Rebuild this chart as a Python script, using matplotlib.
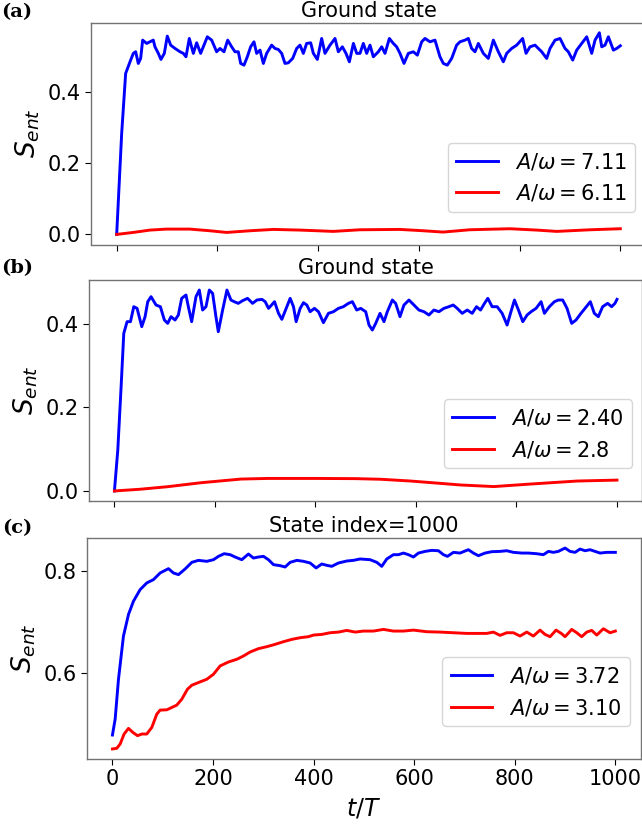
import matplotlib
matplotlib.use("Agg")
import matplotlib.pyplot as plt

# ---------------- data ----------------
# Panel (a): Ground state
t_a_blue = [0, 9.9, 17.8, 26.4, 33.0, 37.7, 42.9, 47.6, 51.6, 59.5, 66.1, 72.7, 76.0, 82.7, 87.9, 94.6,
            100.5, 107.2, 115.8, 125.8, 132.3, 137.6, 144.2, 152.2, 158.8, 166.7, 173.3, 180.0, 188.6,
            198.5, 205.1, 213.1, 220.4, 228.3, 234.9, 241.5, 246.2, 252.8, 259.4, 266.0, 272.6, 277.9,
            284.6, 291.2, 297.8, 307.7, 314.3, 320.9, 327.6, 334.2, 340.8, 349.4, 357.4, 364.0, 370.6,
            377.2, 385.2, 390.5, 398.4, 407.0, 413.6, 423.6, 433.5, 440.1, 448.1, 455.3, 462.0, 470.0,
            476.6, 483.1, 489.7, 496.4, 503.0, 509.6, 519.5, 526.2, 532.8, 541.4, 549.3, 555.9, 562.5,
            570.5, 579.1, 589.0, 597.0, 605.6, 612.2, 622.1, 632.0, 641.9, 648.6, 656.5, 665.1, 675.0,
            681.7, 691.6, 698.2, 704.8, 711.5, 718.1, 728.0, 737.9, 747.9, 757.8, 767.7, 774.4, 784.3,
            794.2, 806.1, 812.8, 820.7, 830.6, 843.9, 853.8, 860.4, 870.4, 880.3, 890.2, 896.8, 905.5,
            913.4, 923.3, 933.3, 943.2, 949.8, 958.4, 963.1, 969.7, 976.3, 986.2, 992.8, 1000]
s_a_blue = [0.0, 0.284, 0.4535, 0.486, 0.510, 0.5145, 0.4816, 0.4957, 0.5473, 0.538, 0.5426, 0.5473,
            0.5285, 0.510, 0.4929, 0.510, 0.5586, 0.5332, 0.5239, 0.5145, 0.510, 0.5004, 0.552, 0.510,
            0.5398, 0.510, 0.5332, 0.5567, 0.5473, 0.5145, 0.5239, 0.5145, 0.5473, 0.5285, 0.5145,
            0.5145, 0.4816, 0.4769, 0.5004, 0.5285, 0.5426, 0.510, 0.5192, 0.4816, 0.510, 0.5332,
            0.5239, 0.521, 0.510, 0.4816, 0.4835, 0.4957, 0.5239, 0.5332, 0.510, 0.538, 0.5398, 0.510,
            0.4929, 0.552, 0.510, 0.5332, 0.552, 0.5145, 0.5285, 0.510, 0.4863, 0.538, 0.510, 0.510,
            0.538, 0.510, 0.5332, 0.5004, 0.5145, 0.5285, 0.510, 0.552, 0.538, 0.5285, 0.510, 0.4816,
            0.510, 0.5145, 0.505, 0.5426, 0.552, 0.5426, 0.5473, 0.5004, 0.4816, 0.4769, 0.4957,
            0.5332, 0.5426, 0.5473, 0.552, 0.5239, 0.5145, 0.538, 0.510, 0.4957, 0.5473, 0.5145,
            0.4863, 0.510, 0.5239, 0.5332, 0.552, 0.510, 0.5285, 0.5332, 0.5145, 0.4957, 0.5239,
            0.5473, 0.552, 0.5239, 0.5145, 0.4910, 0.5192, 0.538, 0.5567, 0.510, 0.5473, 0.5680,
            0.5285, 0.5332, 0.5567, 0.5192, 0.5239, 0.5314]
t_a_red = [0, 33, 66, 99, 145, 185, 218, 265, 311, 364, 430, 483, 562, 609, 648, 701, 781, 834, 874, 940, 1000]
s_a_red = [0.0, 0.0056, 0.0122, 0.015, 0.015, 0.0103, 0.0056, 0.0103, 0.0141, 0.0122, 0.0085, 0.0131,
           0.0141, 0.0103, 0.0066, 0.0131, 0.016, 0.0122, 0.0085, 0.0131, 0.016]

# Panel (b): Ground state
t_b_blue = [0, 6.7, 13.3, 18.6, 25.2, 31.9, 38.5, 45.1, 54.4, 61.0, 66.3, 72.9, 82.8, 91.4, 99.4, 106.0,
            112.6, 120.6, 127.2, 133.8, 142.4, 147.1, 153.7, 162.3, 168.9, 175.5, 182.2, 188.8, 195.4,
            202.0, 206.7, 215.3, 223.9, 231.8, 238.4, 246.4, 255.0, 264.9, 274.9, 283.5, 293.4, 300.0,
            306.7, 318.6, 326.5, 333.1, 343.1, 349.7, 356.3, 361.6, 369.6, 376.2, 382.8, 389.4, 398.0,
            406.0, 415.9, 425.8, 435.8, 445.7, 455.6, 465.6, 473.5, 482.1, 490.1, 500.0, 506.6, 513.2,
            519.9, 528.5, 536.4, 543.0, 553.0, 559.6, 568.2, 576.1, 586.1, 596.0, 605.9, 615.9, 625.8,
            635.7, 645.7, 655.6, 665.5, 674.2, 682.1, 692.0, 702.0, 711.9, 720.5, 728.5, 736.4, 743.0,
            751.6, 761.6, 771.5, 781.4, 788.1, 796.0, 804.0, 812.6, 821.2, 829.1, 839.0, 849.0, 855.6,
            865.5, 875.5, 883.4, 892.0, 900.6, 909.9, 918.5, 928.4, 936.4, 947.0, 954.9, 962.9, 971.5,
            981.4, 989.4, 996.0, 1000]
s_b_blue = [0.0, 0.0982, 0.2499, 0.3776, 0.4056, 0.4056, 0.4415, 0.4375, 0.3936, 0.4176, 0.4535, 0.4655,
            0.4455, 0.4415, 0.4096, 0.4016, 0.4176, 0.4096, 0.4216, 0.4615, 0.4695, 0.4415, 0.4056,
            0.4655, 0.4814, 0.4335, 0.4415, 0.4814, 0.4735, 0.4176, 0.3816, 0.4335, 0.4814, 0.4575,
            0.4535, 0.4495, 0.4559, 0.4615, 0.4495, 0.4575, 0.4591, 0.4535, 0.4375, 0.4535, 0.4256,
            0.4112, 0.4415, 0.4615, 0.4415, 0.4056, 0.4375, 0.4511, 0.4455, 0.4295, 0.4375, 0.4295,
            0.4032, 0.4256, 0.4295, 0.4375, 0.4415, 0.4495, 0.4535, 0.4335, 0.4375, 0.4295, 0.3976,
            0.3856, 0.4016, 0.4256, 0.4056, 0.4295, 0.4575, 0.4495, 0.4176, 0.4455, 0.4575, 0.4455,
            0.4335, 0.4295, 0.4216, 0.4335, 0.4295, 0.4375, 0.4415, 0.4455, 0.4375, 0.4256, 0.4335,
            0.4256, 0.4415, 0.4335, 0.4495, 0.4615, 0.4415, 0.4415, 0.4256, 0.3976, 0.4256, 0.4575,
            0.4335, 0.4056, 0.4216, 0.4295, 0.4375, 0.4535, 0.4256, 0.4415, 0.4535, 0.4575, 0.4575,
            0.4375, 0.4016, 0.4096, 0.4256, 0.4375, 0.4535, 0.4256, 0.4176, 0.4415, 0.4495, 0.4415,
            0.4495, 0.4591]
t_b_red = [0, 50, 106, 172, 252, 305, 400, 480, 530, 589, 640, 689, 755, 821, 921, 1000]
s_b_red = [0.0, 0.004, 0.0102, 0.0197, 0.0285, 0.030, 0.030, 0.0295, 0.028, 0.0238, 0.019, 0.0143,
           0.0105, 0.016, 0.0238, 0.026]

# Panel (c): State index=1000
t_c_blue = [0, 5.4, 12.0, 21.9, 31.9, 41.8, 55.1, 68.3, 81.6, 94.8, 111.4, 121.3, 131.3, 144.5, 157.8,
            171.0, 187.6, 200.9, 210.8, 222.1, 234.0, 243.9, 257.2, 270.4, 280.4, 290.3, 300.3, 310.2,
            320.2, 333.4, 343.4, 353.3, 366.6, 379.8, 393.1, 405.0, 416.2, 426.2, 436.1, 449.4, 465.9,
            479.2, 492.4, 512.3, 525.6, 535.5, 545.5, 558.7, 568.7, 578.6, 588.5, 598.5, 608.4, 621.7,
            634.9, 648.2, 658.1, 666.1, 678.0, 691.2, 699.2, 707.8, 717.7, 727.7, 740.9, 754.2, 770.8,
            784.0, 797.3, 813.8, 827.1, 843.7, 856.9, 866.9, 876.8, 886.7, 900.0, 909.9, 919.9, 929.8,
            939.7, 949.7, 959.6, 969.6, 982.8, 1000]
s_c_blue = [0.4769, 0.5084, 0.587, 0.6723, 0.7149, 0.7411, 0.764, 0.7772, 0.7837, 0.7968, 0.8053, 0.7968,
            0.7935, 0.8047, 0.8178, 0.8217, 0.8198, 0.823, 0.8296, 0.8348, 0.8329, 0.8283, 0.823, 0.8342,
            0.8263, 0.8283, 0.8296, 0.823, 0.8132, 0.8112, 0.8086, 0.8178, 0.8217, 0.8198, 0.8165,
            0.8067, 0.8145, 0.8119, 0.8099, 0.8165, 0.8204, 0.8217, 0.8244, 0.823, 0.8178, 0.8099,
            0.8244, 0.8329, 0.8329, 0.8361, 0.8329, 0.8283, 0.8361, 0.8394, 0.8414, 0.8407, 0.8329,
            0.8296, 0.8375, 0.8361, 0.8394, 0.8427, 0.8361, 0.8309, 0.8361, 0.8388, 0.8394, 0.8407,
            0.8375, 0.8361, 0.8361, 0.8348, 0.8329, 0.8394, 0.8375, 0.8394, 0.846, 0.8394, 0.8375,
            0.844, 0.8407, 0.8427, 0.8394, 0.8361, 0.8375, 0.8375]
t_c_red = [0, 8.7, 15.3, 23.2, 31.9, 40.5, 49.8, 58.4, 68.3, 78.3, 88.2, 94.8, 108.1, 118.0, 127.9, 137.9,
           149.2, 157.8, 171.0, 187.6, 200.9, 214.1, 230.7, 247.3, 260.5, 273.8, 290.3, 306.9, 323.5,
           340.0, 356.6, 373.2, 389.7, 399.7, 416.2, 432.8, 449.4, 465.9, 482.5, 499.1, 519.0, 538.8,
           558.7, 578.6, 598.5, 625.0, 651.5, 678.0, 704.5, 724.4, 744.3, 757.5, 770.8, 784.0, 797.3,
           810.5, 823.8, 837.0, 850.3, 860.2, 870.2, 882.1, 893.4, 900.0, 913.3, 923.2, 933.1, 943.1,
           953.0, 963.0, 976.2, 989.5, 1000]
s_c_red = [0.4494, 0.4507, 0.4592, 0.4789, 0.490, 0.4822, 0.4756, 0.4789, 0.4789, 0.4920, 0.5182, 0.5261,
           0.5267, 0.5313, 0.5359, 0.5477, 0.5674, 0.5752, 0.5805, 0.587, 0.5969, 0.6133, 0.6211,
           0.6264, 0.6329, 0.6408, 0.6474, 0.6513, 0.6559, 0.6611, 0.6657, 0.669, 0.671, 0.6742,
           0.6755, 0.6788, 0.6801, 0.6834, 0.6801, 0.6821, 0.6821, 0.6854, 0.6821, 0.6821, 0.684,
           0.6808, 0.6801, 0.6788, 0.6775, 0.6775, 0.6775, 0.6801, 0.6736, 0.6788, 0.6788, 0.6723,
           0.6801, 0.6723, 0.684, 0.6755, 0.671, 0.684, 0.6768, 0.671, 0.6854, 0.6788, 0.671, 0.6801,
           0.6834, 0.6742, 0.6867, 0.6788, 0.6821]

titles = ["Ground state", "Ground state", "State index=1000"]
panel_labels = ["(a)", "(b)", "(c)"]
legend_blue = [r"$A/\omega = 7.11$", r"$A/\omega = 2.40$", r"$A/\omega = 3.72$"]
legend_red = [r"$A/\omega = 6.11$", r"$A/\omega = 2.8$", r"$A/\omega = 3.10$"]
x_ticks = [0, 200, 400, 600, 800, 1000]
y_ticks = [[0.0, 0.2, 0.4], [0.0, 0.2, 0.4], [0.6, 0.8]]

# ---------------- figure ----------------
W, H = 642, 825
fig = plt.figure(figsize=(W / 100, H / 100), dpi=100)

def px_axes(left, right, top, bottom):
    return [left / W, 1 - bottom / H, (right - left) / W, (bottom - top) / H]

boxes = [px_axes(91.5, 645.5, 22.7, 244.5),
         px_axes(89.3, 642.1, 280.0, 501.0),
         px_axes(87.3, 640.5, 538.0, 759.0)]
label_y = [12, 268, 528]

series = [(t_a_blue, s_a_blue, t_a_red, s_a_red),
          (t_b_blue, s_b_blue, t_b_red, s_b_red),
          (t_c_blue, s_c_blue, t_c_red, s_c_red)]

for i, (tb, sb, tr, sr) in enumerate(series):
    ax = fig.add_axes(boxes[i])
    ax.plot(tb, sb, color="blue", lw=2.1, label=legend_blue[i])
    ax.plot(tr, sr, color="red", lw=2.1, label=legend_red[i])
    ax.set_xlim(-50, 1050)
    ax.set_xticks(x_ticks)
    ax.set_yticks(y_ticks[i])
    ax.tick_params(labelsize=15, length=4, width=0.8)
    if i < 2:
        ax.tick_params(labelbottom=False)
    for sp in ax.spines.values():
        sp.set_color("0.45")
        sp.set_linewidth(1.0)
    ax.set_title(titles[i], fontsize=15, pad=4)
    ax.set_ylabel(r"$S_{ent}$", fontsize=19)
    ax.legend(loc="lower right", bbox_to_anchor=(1.0, 0.1), fontsize=15,
              handlelength=2.0, framealpha=0.8)
    fig.text(17 / W, 1 - label_y[i] / H, panel_labels[i], ha="center", va="center",
             fontsize=14, fontweight="bold", family="DejaVu Serif")
    if i == 2:
        ax.set_xlabel(r"$t/T$", fontsize=17, labelpad=5)

fig.savefig("out.png", dpi=100)
